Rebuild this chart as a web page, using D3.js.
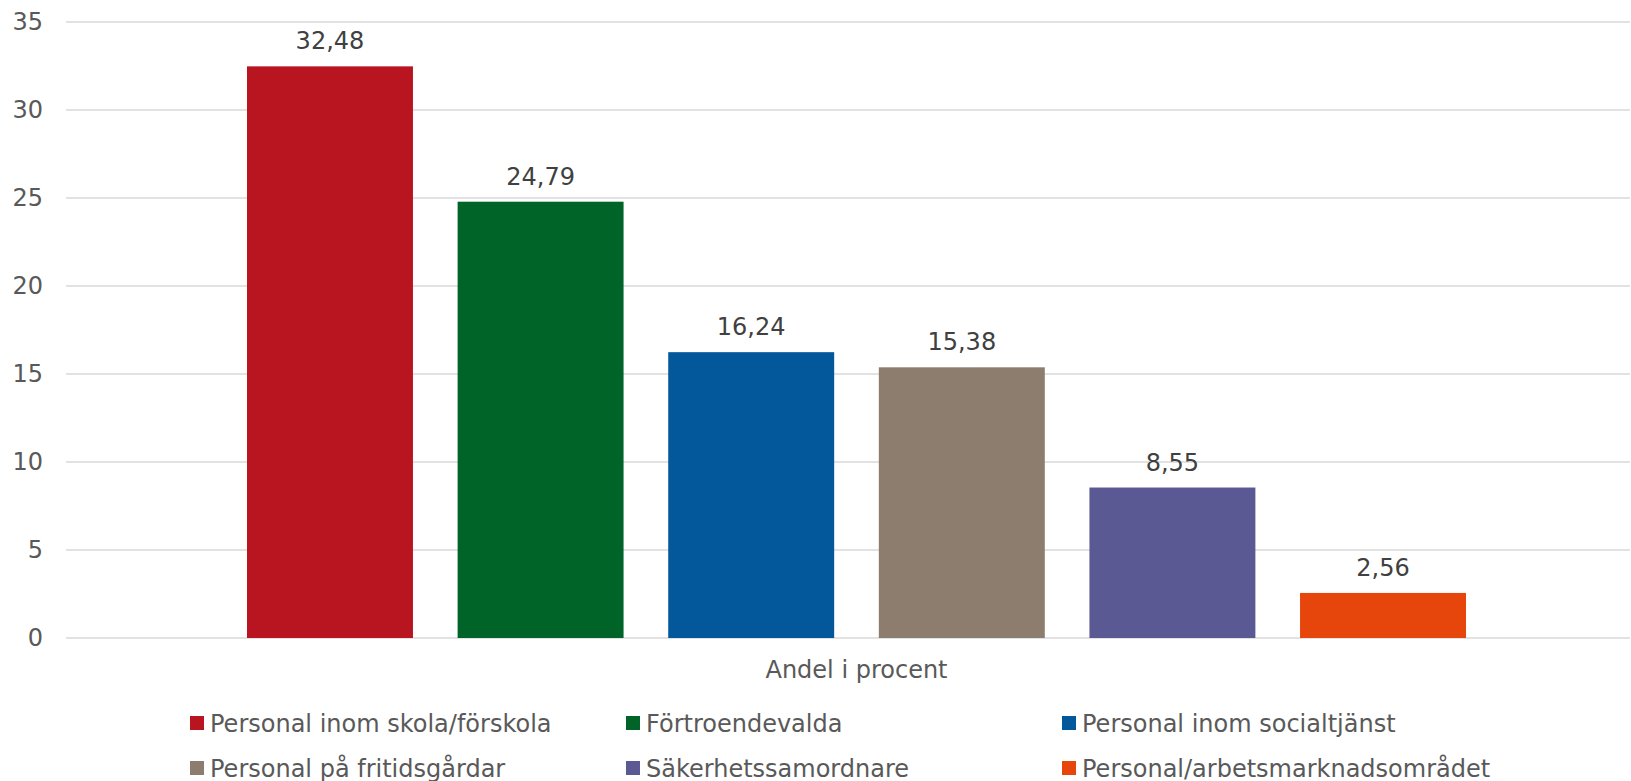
<!DOCTYPE html>
<html>
<head>
<meta charset="utf-8">
<script src="https://cdn.jsdelivr.net/npm/d3@7"></script>
<style>
  body { margin: 0; background: #fff; }
  svg { display: block; font-family: "DejaVu Sans", Verdana, sans-serif; }
</style>
</head>
<body>
<svg id="chart" width="1631" height="781"></svg>
<script>
// data
var category = ["Andel i procent"];
var series = ["Personal inom skola/förskola", "Förtroendevalda", "Personal inom socialtjänst",
              "Personal på fritidsgårdar", "Säkerhetssamordnare", "Personal/arbetsmarknadsområdet"];
var values = [32.48, 24.79, 16.24, 15.38, 8.55, 2.56];
var colors = ["#b91520", "#006428", "#02589b", "#8c7d6e", "#5b5994", "#e6460b"];
var yTicks = [0, 5, 10, 15, 20, 25, 30, 35];

var svg = d3.select("#chart");
// note: "top" is a reserved window property, so use plot* names
var plotLeft = 66, plotRight = 1647, plotTop = 22, plotBottom = 638;

var y = d3.scaleLinear().domain([0, 35]).range([plotBottom, plotTop]);

// one category, six series inside it
var x0 = d3.scaleBand().domain(category).range([plotLeft, plotRight]);
var groupW = 1219;
var cx = x0(category[0]) + x0.bandwidth() / 2;
var x1 = d3.scaleBand().domain(series)
           .range([cx - groupW / 2, cx + groupW / 2])
           .paddingInner(0.212);

// gridlines
svg.append("g").selectAll("line")
  .data(yTicks)
  .enter().append("line")
    .attr("x1", plotLeft).attr("x2", 1630)
    .attr("y1", function(d) { return y(d); })
    .attr("y2", function(d) { return y(d); })
    .attr("stroke", "#d9d9d9")
    .attr("stroke-width", 1.5);

// y axis labels
var yAxis = d3.axisLeft(y).tickValues(yTicks).tickSize(0).tickPadding(0);
var ga = svg.append("g").attr("transform", "translate(43,0)").call(yAxis);
ga.select(".domain").remove();
ga.selectAll("text")
  .attr("font-size", 24)
  .attr("font-family", "DejaVu Sans, Verdana, sans-serif")
  .attr("fill", "#595959");

// bars
svg.selectAll("rect.bar")
  .data(values)
  .enter().append("rect")
    .attr("class", "bar")
    .attr("x", function(d, i) { return x1(series[i]); })
    .attr("width", x1.bandwidth())
    .attr("y", function(d) { return y(d); })
    .attr("height", function(d) { return y(0) - y(d); })
    .attr("fill", function(d, i) { return colors[i]; });

// value labels
svg.selectAll("text.val")
  .data(values)
  .enter().append("text")
    .attr("class", "val")
    .attr("x", function(d, i) { return x1(series[i]) + x1.bandwidth() / 2; })
    .attr("y", function(d) { return y(d) - 17; })
    .attr("text-anchor", "middle")
    .attr("font-size", 24)
    .attr("fill", "#404040")
    .text(function(d) { return d.toFixed(2).replace(".", ","); });

// category label
svg.append("text")
  .attr("x", cx)
  .attr("y", 678)
  .attr("text-anchor", "middle")
  .attr("font-size", 24)
  .attr("fill", "#595959")
  .text(category[0]);

// legend, 3 columns x 2 rows
var legend = svg.append("g").selectAll("g")
  .data(series)
  .enter().append("g")
    .attr("transform", function(d, i) {
      return "translate(" + (190 + (i % 3) * 436) + "," + (716 + Math.floor(i / 3) * 45) + ")";
    });

legend.append("rect")
  .attr("width", 14).attr("height", 14)
  .attr("fill", function(d, i) { return colors[i]; });

legend.append("text")
  .attr("x", 20)
  .attr("y", 16)
  .attr("font-size", 24)
  .attr("fill", "#595959")
  .text(function(d) { return d; });
</script>
</body>
</html>
